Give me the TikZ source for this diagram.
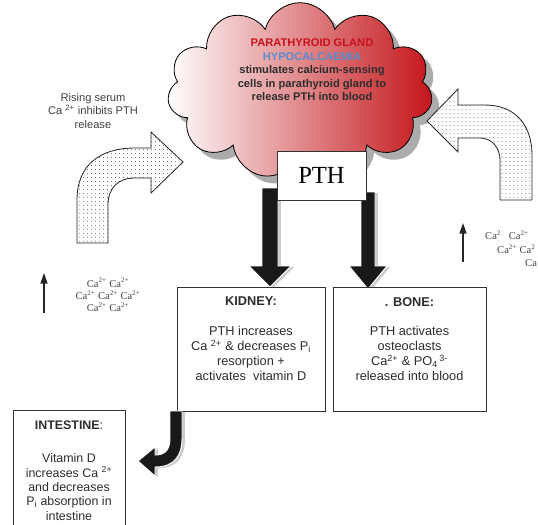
\documentclass[tikz,border=0pt]{standalone}
\usepackage{fontspec}
\setmainfont{Liberation Sans}
\newfontfamily\timesfont{Liberation Serif}
\usetikzlibrary{shapes.symbols,shadows,patterns,arrows.meta,positioning}

\definecolor{glandred}{RGB}{200,18,30}
\definecolor{hypoblue}{RGB}{88,140,205}
\definecolor{bodygray}{RGB}{45,45,45}
\definecolor{cloudpink}{RGB}{236,212,215}
\definecolor{clouddark}{RGB}{195,20,25}
\newcommand\caion{Ca\textsuperscript{2+}}
\pgfdeclarepatternformonly{sparsedots}{\pgfqpoint{-1pt}{-1pt}}{\pgfqpoint{1pt}{1pt}}{\pgfqpoint{3.4pt}{3.4pt}}%
  {\pgfpathcircle{\pgfpointorigin}{0.4pt}\pgfusepath{fill}}

\begin{document}
\begin{tikzpicture}[x=0.03cm, y=-0.03cm,
    organbox/.style={draw=black!80, line width=0.8pt, fill=white, inner sep=0},
    organtext/.style={align=center, text=bodygray, font=\fontsize{10.9}{12.75}\selectfont, inner sep=0, anchor=north},
    dotarrow/.style={draw=black!85, line width=0.7pt, preaction={fill=white}, pattern=sparsedots, pattern color=black!65},
    blackarrow/.style={fill=black!90, draw=white, line width=0.8pt, drop shadow={shadow xshift=2.5pt, shadow yshift=-1pt, fill=gray!40, opacity=1}},
    calcium/.style={font=\timesfont\fontsize{9}{10.6}\selectfont, text=black!75, inner sep=0},
    rise/.style={-{Triangle[width=6pt,length=9pt]}, line width=1.1pt, black!85}
  ]
    \path[use as bounding box, clip] (0,0) rectangle (538,524);

    % Parathyroid cloud
    \node[cloud, cloud puffs=11, aspect=1.5, minimum width=7.95cm, minimum height=5.3cm,
        draw=black, line width=0.7pt, left color=white, middle color=cloudpink, right color=clouddark,
        drop shadow={shadow xshift=0.22cm, shadow yshift=-0.22cm, fill=gray!65, opacity=1}] (gland) at (300,91) {};
    \node[align=center, font=\bfseries\fontsize{9.5}{11.5}\selectfont, text=bodygray, inner sep=0] (glandtext) at (312,70)
        {\textcolor{glandred}{PARATHYROID GLAND}\\ \textcolor{hypoblue}{HYPOCALCAEMIA}\\ stimulates calcium-sensing\\ cells in parathyroid gland to\\ release PTH into blood};

    % PTH down arrows
    \draw[blackarrow] (262,188) -- (278,188) -- (278,266) -- (291,266) -- (270,287) -- (249,266) -- (262,266) -- cycle;
    \draw[blackarrow] (361,192) -- (375,192) -- (375,266) -- (387,266) -- (368,289) -- (349,266) -- (361,266) -- cycle;
    \node[organbox, minimum width=2.67cm, minimum height=1.47cm, font=\timesfont\fontsize{21}{24}\selectfont] (pth) at (321.5,175.5) {PTH};

    % Organ boxes
    \node[organbox, minimum width=4.44cm, minimum height=3.72cm] (kidney) at (251,349) {};
    \node[organbox, minimum width=4.59cm, minimum height=3.72cm] (bone) at (409.5,349) {};
    \draw[draw=black!80, line width=0.8pt] (13,530) |- (125,410) -- (125,530);
    \coordinate (intestine) at (69,410);

    \node[organtext] (kidneytext) at ([yshift=-0.31cm]kidney.north)
        {\textbf{KIDNEY:}\\[12.75pt] PTH increases\\ Ca \textsuperscript{2+} \& decreases P\textsubscript{i}\\ resorption +\\ activates\ \ vitamin D};
    \node[organtext] (bonetext) at ([yshift=-0.31cm]bone.north)
        {\textbf{. BONE:}\\[12.75pt] PTH activates\\ osteoclasts\\ \caion{} \& PO\textsubscript{4}\textsuperscript{\,3-}\\ released into blood};
    \node[organtext, font=\fontsize{10.6}{12.2}\selectfont] (intestinetext) at ([yshift=-0.31cm]intestine)
        {\textbf{INTESTINE}:\\[16.5pt] Vitamin D\\ increases Ca \textsuperscript{2+}\\ and decreases\\ P\textsubscript{i} absorption in\\ intestine};

    % Kidney to intestine
    \draw[blackarrow] (170,411) -- (170,438) .. controls (170,450) and (165,455) .. (155,455)
        -- (155,447) -- (138,461) -- (155,476) -- (155,467)
        .. controls (175,467) and (182,455) .. (182,438) -- (182,411) -- cycle;

    % Feedback arrows
    \draw[dotarrow] (77,243) -- (77,200) .. controls (77,165) and (100,148) .. (135,148) -- (151,148)
        -- (151,132) -- (183,162) -- (151,193) -- (151,178) -- (135,178)
        .. controls (118,178) and (108,188) .. (108,205) -- (108,243) -- cycle;
    \draw[dotarrow] (532,200) -- (532,155) .. controls (532,125) and (515,105) .. (485,105) -- (458,105)
        -- (458,89) -- (427,121) -- (458,152) -- (458,138) -- (480,138)
        .. controls (492,138) and (500,148) .. (500,160) -- (500,200) -- cycle;

    \node[align=center, text=black!75, font=\fontsize{9.5}{11.9}\selectfont, inner sep=0] (rising) at (93,111)
        {Rising serum\\ Ca \textsuperscript{2+} inhibits PTH\\ release};

    % Serum calcium
    \coordinate (leftbase) at (44,313);
    \coordinate (lefttop) at (44,273);
    \draw[rise] (leftbase) -- (lefttop);
    \node[calcium, align=center] (caleft) at (108,295) {\caion{} \caion\\ \caion{} \caion{} \caion\\ \caion{} \caion};

    \coordinate (rightbase) at (463,262);
    \coordinate (righttop) at (463,223);
    \draw[rise] (rightbase) -- (righttop);
    \node[calcium, anchor=west] (caright1) at (485,235) {Ca\textsuperscript{2}\ \ \ \caion};
    \node[calcium, anchor=west] (caright2) at (497,249) {\caion{} Ca\textsuperscript{2}};
    \node[calcium, anchor=west] (caright3) at (525,263) {Ca};
\end{tikzpicture}
\end{document}
